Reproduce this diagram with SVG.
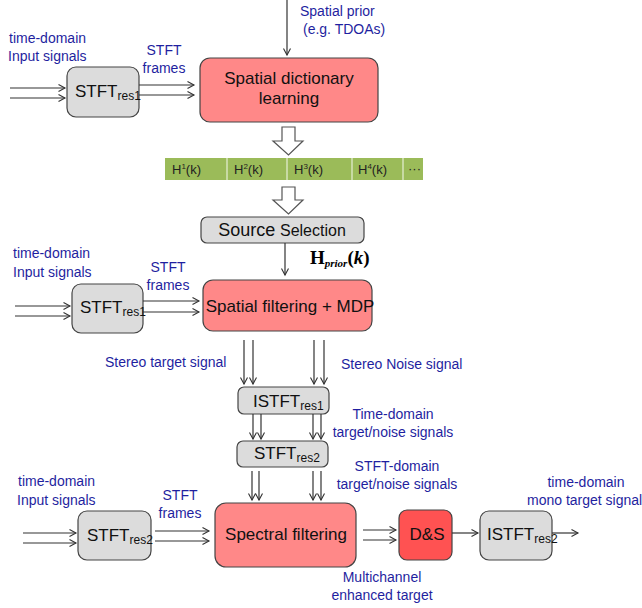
<svg xmlns="http://www.w3.org/2000/svg" width="642" height="608" viewBox="0 0 642 608">
<defs>
<marker id="ah" markerWidth="10" markerHeight="10" refX="7" refY="4" orient="auto" markerUnits="userSpaceOnUse">
<path d="M0.5,0.5 L7,4 L0.5,7.5" fill="none" stroke="#333" stroke-width="1.1"/>
</marker>
<style>
.lbl{font-family:"Liberation Sans",Arial,sans-serif;font-size:14px;fill:#1f1fa0}
.box{font-family:"Liberation Sans",Arial,sans-serif;font-size:17px;fill:#111}
.gray{fill:#dcdcdc;stroke:#444;stroke-width:1.2}
.red{fill:#ff8888;stroke:#444;stroke-width:1.2}
.red2{fill:#ff5252;stroke:#444;stroke-width:1.2}
.con line{stroke:#333;stroke-width:1.2;marker-end:url(#ah)}
.hollow{fill:#fff;stroke:#555;stroke-width:1.2}
.cell{font-family:"Liberation Sans",Arial,sans-serif;font-size:13px;fill:#222}
.sub{font-size:12px}
</style>
</defs>

<!-- labels -->
<g id="labels">
<text class="lbl" x="300" y="16">Spatial prior</text>
<text class="lbl" x="303" y="34">(e.g. TDOAs)</text>
<text class="lbl" x="9" y="43">time-domain</text>
<text class="lbl" x="8" y="61">Input signals</text>
<text class="lbl" x="164" y="55" text-anchor="middle">STFT</text>
<text class="lbl" x="164" y="73" text-anchor="middle">frames</text>

<text class="lbl" x="13" y="258">time-domain</text>
<text class="lbl" x="13" y="277">Input signals</text>
<text class="lbl" x="168" y="272" text-anchor="middle">STFT</text>
<text class="lbl" x="168" y="290" text-anchor="middle">frames</text>
<text x="310" y="264" font-family="'Liberation Serif','Times New Roman',serif" font-weight="bold" font-size="19" fill="#000">H<tspan font-size="11" font-style="italic" dy="3">prior</tspan><tspan dy="-3">(</tspan><tspan font-style="italic">k</tspan>)</text>

<text class="lbl" x="105" y="367">Stereo target signal</text>
<text class="lbl" x="341" y="369">Stereo Noise signal</text>
<text class="lbl" x="393" y="419" text-anchor="middle">Time-domain</text>
<text class="lbl" x="393" y="437" text-anchor="middle">target/noise signals</text>
<text class="lbl" x="397" y="471" text-anchor="middle">STFT-domain</text>
<text class="lbl" x="397" y="489" text-anchor="middle">target/noise signals</text>

<text class="lbl" x="18" y="486">time-domain</text>
<text class="lbl" x="17" y="505">Input signals</text>
<text class="lbl" x="180" y="500" text-anchor="middle">STFT</text>
<text class="lbl" x="180" y="518" text-anchor="middle">frames</text>
<text class="lbl" x="586" y="487" text-anchor="middle">time-domain</text>
<text class="lbl" x="527" y="505" font-size="13.5">mono target signal</text>
<text class="lbl" x="382" y="582" text-anchor="middle">Multichannel</text>
<text class="lbl" x="382" y="600" text-anchor="middle">enhanced target</text>
</g>

<!-- nodes -->
<g id="stft1">
<rect class="gray" x="67" y="67" width="72" height="50" rx="9"/>
<text class="box" x="75" y="97" font-size="18">STFT<tspan class="sub" dy="3">res1</tspan></text>
</g>
<g id="dict">
<rect class="red" x="200" y="58" width="178" height="64" rx="10"/>
<text class="box" x="289" y="84" text-anchor="middle">Spatial  dictionary</text>
<text class="box" x="289" y="104" text-anchor="middle">learning</text>
</g>
<g id="hbar">
<rect x="165" y="158" width="258" height="22" fill="#9bbb59"/>
<g stroke="#d7e4bd" stroke-width="1.5">
<line x1="227" y1="158" x2="227" y2="180"/>
<line x1="287" y1="158" x2="287" y2="180"/>
<line x1="352" y1="158" x2="352" y2="180"/>
<line x1="403" y1="158" x2="403" y2="180"/>
</g>
<text class="cell" x="172" y="174">H<tspan font-size="8" dy="-5">1</tspan><tspan dy="5">(k)</tspan></text>
<text class="cell" x="234" y="174">H<tspan font-size="8" dy="-5">2</tspan><tspan dy="5">(k)</tspan></text>
<text class="cell" x="294" y="174">H<tspan font-size="8" dy="-5">3</tspan><tspan dy="5">(k)</tspan></text>
<text class="cell" x="358" y="174">H<tspan font-size="8" dy="-5">4</tspan><tspan dy="5">(k)</tspan></text>
<text class="cell" x="408" y="173" fill="#eef4e0" font-size="9">···</text>
</g>
<g id="srcsel">
<rect class="gray" x="201" y="217" width="163" height="26" rx="6"/>
<text class="box" x="282" y="236" text-anchor="middle"><tspan font-size="18">Source</tspan> <tspan font-size="16">Selection</tspan></text>
</g>
<g id="stft1b">
<rect class="gray" x="72" y="284" width="71" height="49" rx="9"/>
<text class="box" x="80" y="313" font-size="18">STFT<tspan class="sub" dy="3">res1</tspan></text>
</g>
<g id="spfilt">
<rect class="red" x="203" y="280" width="169" height="51" rx="10"/>
<text class="box" x="290" y="312" text-anchor="middle">Spatial  filtering  + MDP</text>
</g>
<g id="istft1">
<rect class="gray" x="238" y="387" width="91" height="27" rx="6"/>
<text class="box" x="253" y="407" font-size="18">ISTFT<tspan class="sub" dy="3">res1</tspan></text>
</g>
<g id="stft2">
<rect class="gray" x="237" y="441" width="91" height="26" rx="6"/>
<text class="box" x="254" y="459" font-size="18">STFT<tspan class="sub" dy="3">res2</tspan></text>
</g>
<g id="stft2b">
<rect class="gray" x="78" y="511" width="73" height="49" rx="9"/>
<text class="box" x="87" y="541" font-size="18">STFT<tspan class="sub" dy="3">res2</tspan></text>
</g>
<g id="specfilt">
<rect class="red" x="215" y="503" width="141" height="64" rx="11"/>
<text class="box" x="286" y="540" text-anchor="middle">Spectral  filtering</text>
</g>
<g id="ds">
<rect class="red2" x="399" y="510" width="53" height="50" rx="8"/>
<text class="box" x="427" y="540" text-anchor="middle" font-size="18">D&amp;S</text>
</g>
<g id="istft2">
<rect class="gray" x="480" y="511" width="72" height="49" rx="9"/>
<text class="box" x="487" y="540" font-size="18">ISTFT<tspan class="sub" dy="3">res2</tspan></text>
</g>

<!-- connectors -->
<g id="connectors" class="con">
<line x1="287" y1="0" x2="287" y2="55"/>
<line x1="10" y1="88" x2="65" y2="88"/>
<line x1="10" y1="98" x2="65" y2="98"/>
<line x1="139" y1="85" x2="194" y2="85"/>
<line x1="139" y1="95" x2="194" y2="95"/>
<path class="hollow" d="M282,127 L295,127 L295,141 L303,141 L288.5,155 L273,141 L282,141 Z"/>
<path class="hollow" d="M282,187 L295,187 L295,200 L303,200 L288.5,214 L273,200 L282,200 Z"/>
<line x1="285" y1="243" x2="285" y2="275"/>
<line x1="15" y1="306" x2="70" y2="306"/>
<line x1="15" y1="316" x2="70" y2="316"/>
<line x1="143" y1="301" x2="199" y2="301"/>
<line x1="143" y1="312" x2="199" y2="312"/>
<line x1="244" y1="340" x2="244" y2="384"/>
<line x1="253" y1="340" x2="253" y2="384"/>
<line x1="314" y1="340" x2="314" y2="384"/>
<line x1="324" y1="340" x2="324" y2="384"/>
<line x1="253" y1="414" x2="253" y2="439"/>
<line x1="261" y1="414" x2="261" y2="439"/>
<line x1="313" y1="414" x2="313" y2="439"/>
<line x1="321" y1="414" x2="321" y2="439"/>
<line x1="252" y1="471" x2="252" y2="500"/>
<line x1="259" y1="471" x2="259" y2="500"/>
<line x1="313" y1="471" x2="313" y2="500"/>
<line x1="321" y1="471" x2="321" y2="500"/>
<line x1="23" y1="533" x2="76" y2="533"/>
<line x1="23" y1="543" x2="76" y2="543"/>
<line x1="155" y1="531" x2="209" y2="531"/>
<line x1="155" y1="541" x2="209" y2="541"/>
<line x1="363" y1="530" x2="396" y2="530"/>
<line x1="363" y1="540" x2="396" y2="540"/>
<line x1="452" y1="533" x2="478" y2="533"/>
<line x1="552" y1="533" x2="578" y2="533"/>
</g>
</svg>
